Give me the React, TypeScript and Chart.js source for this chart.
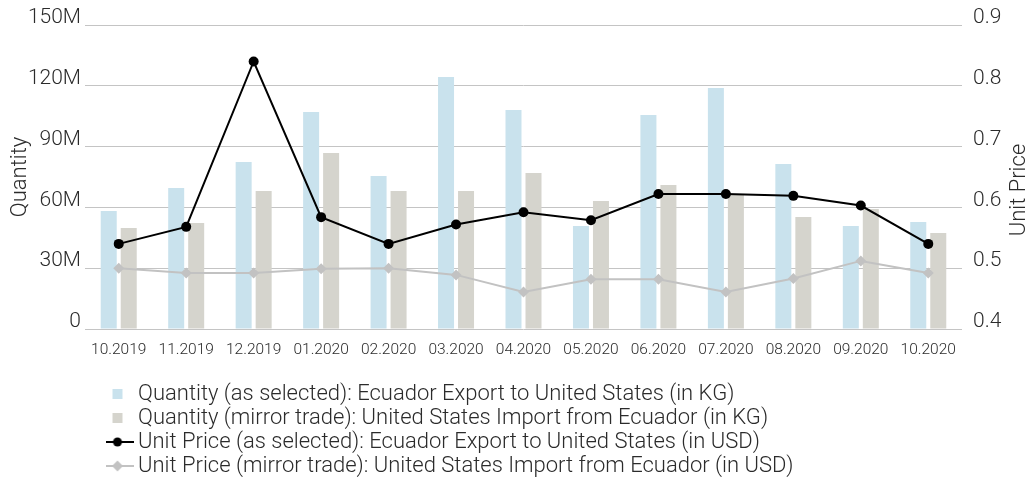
import { useEffect, useRef } from 'react';
import { Chart, registerables } from 'chart.js';

Chart.register(...registerables);

// ---------- data ----------
const months = [
  '10.2019', '11.2019', '12.2019', '01.2020', '02.2020', '03.2020', '04.2020',
  '05.2020', '06.2020', '07.2020', '08.2020', '09.2020', '10.2020',
];
// Quantity in KG
const qtySelected = [58.2e6, 69.6e6, 82.4e6, 107.1e6, 75.5e6, 124.3e6, 108.1e6, 50.8e6, 105.6e6, 118.9e6, 81.4e6, 50.8e6, 52.8e6];
const qtyMirror = [49.8e6, 52.3e6, 68.1e6, 86.8e6, 68.1e6, 68.1e6, 77.0e6, 63.2e6, 71.1e6, 66.5e6, 55.3e6, 59.2e6, 47.4e6];
// Unit price in USD
const priceSelected = [0.540, 0.568, 0.840, 0.584, 0.540, 0.572, 0.592, 0.579, 0.622, 0.622, 0.619, 0.603, 0.540];
const priceMirror = [0.500, 0.492, 0.492, 0.499, 0.500, 0.489, 0.461, 0.482, 0.482, 0.461, 0.483, 0.512, 0.492];

const seriesLabels = [
  'Quantity (as selected): Ecuador Export to United States (in KG)',
  'Quantity (mirror trade): United States Import from Ecuador (in KG)',
  'Unit Price (as selected): Ecuador Export to United States (in USD)',
  'Unit Price (mirror trade): United States Import from Ecuador (in USD)',
];
const leftAxisTitle = 'Quantity';
const rightAxisTitle = 'Unit Price';
const qtyTickLabels = ['0', '30M', '60M', '90M', '120M', '150M'];
const priceTickLabels = ['0.4', '0.5', '0.6', '0.7', '0.8', '0.9'];

const FONT = 'Roboto';
const BLUE = '#c9e2ed';
const GREY_BAR = '#d5d4cd';
const GREY_LINE = '#c2c2c2';
const TEXT = '#2b2b2b';

function makeMarker(kind: string): HTMLCanvasElement {
  const c = document.createElement('canvas');
  c.width = 32;
  c.height = 12;
  const g = c.getContext('2d')!;
  if (kind === 'blue' || kind === 'greybar') {
    g.fillStyle = kind === 'blue' ? BLUE : GREY_BAR;
    g.fillRect(11, 1, 10, 10);
  } else {
    const col = kind === 'black' ? '#000' : GREY_LINE;
    g.strokeStyle = col;
    g.fillStyle = col;
    g.lineWidth = 2;
    g.beginPath();
    g.moveTo(0, 6);
    g.lineTo(32, 6);
    g.stroke();
    g.beginPath();
    if (kind === 'black') {
      g.arc(16, 6, 4.5, 0, Math.PI * 2);
    } else {
      g.moveTo(16, 0.5);
      g.lineTo(21.5, 6);
      g.lineTo(16, 11.5);
      g.lineTo(10.5, 6);
      g.closePath();
    }
    g.fill();
  }
  return c;
}

export default function App() {
  const ref = useRef<HTMLCanvasElement | null>(null);

  useEffect(() => {
    document.body.style.margin = '0';
    const canvas = ref.current;
    if (!canvas) return;
    const markers = [makeMarker('blue'), makeMarker('greybar'), makeMarker('black'), makeMarker('grey')];

    const legendShift = {
      id: 'legendShift',
      afterLayout(chart: any) {
        const lg = chart.legend;
        if (lg) {
          lg.left += 21;
          lg.right += 21;
          lg.top += 4;
          lg.bottom += 4;
        }
      },
    };

    const rightTitle = {
      id: 'rightTitle',
      afterDraw(chart: any) {
        const ctx = chart.ctx;
        ctx.save();
        ctx.translate(1019, 190);
        ctx.rotate(-Math.PI / 2);
        ctx.font = `300 22px ${FONT}`;
        ctx.fillStyle = TEXT;
        ctx.textAlign = 'center';
        ctx.textBaseline = 'middle';
        ctx.fillText(rightAxisTitle, 0, 0);
        ctx.restore();
      },
    };

    const chart = new Chart(canvas, {
      type: 'bar',
      data: {
        labels: months,
        datasets: [
          {
            type: 'bar',
            label: seriesLabels[0],
            data: qtySelected,
            backgroundColor: BLUE,
            yAxisID: 'y',
            barPercentage: 0.8,
            categoryPercentage: 0.593,
            order: 2,
          },
          {
            type: 'bar',
            label: seriesLabels[1],
            data: qtyMirror,
            backgroundColor: GREY_BAR,
            yAxisID: 'y',
            barPercentage: 0.8,
            categoryPercentage: 0.593,
            order: 3,
          },
          {
            type: 'line',
            label: seriesLabels[2],
            data: priceSelected,
            borderColor: '#000',
            backgroundColor: '#000',
            borderWidth: 2,
            pointRadius: 5,
            pointBorderWidth: 0,
            pointBackgroundColor: '#000',
            tension: 0,
            yAxisID: 'y1',
            order: 0,
          },
          {
            type: 'line',
            label: seriesLabels[3],
            data: priceMirror,
            borderColor: GREY_LINE,
            backgroundColor: GREY_LINE,
            borderWidth: 2,
            pointStyle: 'rectRot',
            pointRadius: 5.5,
            pointBorderWidth: 0,
            pointBackgroundColor: GREY_LINE,
            tension: 0,
            yAxisID: 'y1',
            order: 1,
          },
        ] as any,
      },
      options: {
        responsive: false,
        animation: false,
        layout: { padding: { top: 25, bottom: 0, left: 0, right: 0 } },
        font: { family: FONT },
        scales: {
          x: {
            grid: { display: false, drawTicks: false },
            border: { display: false },
            ticks: {
              font: { family: FONT, size: 15.5, weight: '300' as any },
              color: TEXT,
              padding: 12,
              maxRotation: 0,
              autoSkip: false,
            },
            afterFit: (s: any) => {
              s.height = 48;
            },
          },
          y: {
            position: 'left',
            min: 0,
            max: 150e6,
            ticks: {
              stepSize: 30e6,
              callback: (_v: any, i: number) => qtyTickLabels[i],
              font: { family: FONT, size: 21, weight: '300' as any },
              color: TEXT,
              padding: 4,
              labelOffset: -7,
            },
            grid: { color: '#c4c4c4', lineWidth: 1, drawTicks: false },
            border: { display: false },
            title: {
              display: true,
              text: leftAxisTitle,
              color: TEXT,
              font: { family: FONT, size: 22, weight: '300' as any, lineHeight: 1 },
              padding: { top: 9, bottom: 0 },
            },
            afterFit: (s: any) => {
              s.width = 85;
            },
          },
          y1: {
            position: 'right',
            min: 0.4,
            max: 0.9,
            ticks: {
              stepSize: 0.1,
              callback: (_v: any, i: number) => priceTickLabels[i],
              font: { family: FONT, size: 21, weight: '300' as any },
              color: TEXT,
              padding: 11,
              labelOffset: -7,
            },
            grid: { display: false, drawTicks: false },
            border: { display: false },
            afterFit: (s: any) => {
              s.width = 67;
            },
          },
        },
        plugins: {
          tooltip: { enabled: false },
          legend: {
            position: 'bottom',
            fullSize: false,
            align: 'start',
            labels: {
              usePointStyle: true,
              pointStyleWidth: 19,
              boxHeight: 12,
              padding: 2,
              color: TEXT,
              font: { family: FONT, size: 22, weight: '300' as any },
              generateLabels: (ch: any) =>
                ch.data.datasets.map((ds: any, i: number) => ({
                  text: ds.label,
                  fillStyle: 'transparent',
                  strokeStyle: 'transparent',
                  lineWidth: 0,
                  pointStyle: markers[i],
                  hidden: false,
                  datasetIndex: i,
                  fontColor: TEXT,
                })),
            },
          },
        },
      } as any,
      plugins: [legendShift, rightTitle],
    });

    return () => chart.destroy();
  }, []);

  return <canvas ref={ref} width={1029} height={483} style={{ display: 'block' }} />;
}
